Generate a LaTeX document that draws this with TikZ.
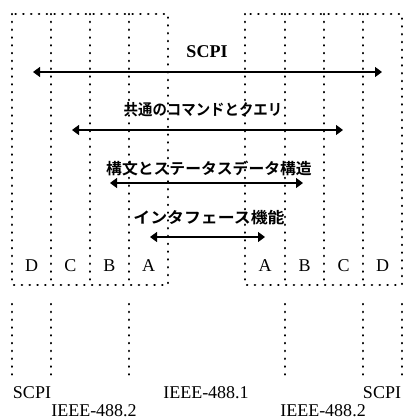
\documentclass[tikz,border=0pt]{standalone}
\usepackage{fontspec}
\setmainfont{Liberation Serif}[BoldFont={Liberation Serif Bold}]
\newfontfamily\jpfont{Noto Sans CJK JP}[BoldFont={Noto Sans CJK JP Bold}]
\usetikzlibrary{arrows.meta}
\begin{document}
\begin{tikzpicture}[x=1pt,y=-1pt,
  dotline/.style={line width=2.4pt,line cap=round,dash pattern=on 0.3pt off 7.5pt},
  arr/.style={line width=1.3pt,{Triangle[length=7pt,width=10pt]}-{Triangle[length=7pt,width=10pt]}},
  lat/.style={inner sep=0pt,font=\fontsize{18}{18}\selectfont},
  bl/.style={inner sep=0pt,font=\fontsize{18}{18}\selectfont\bfseries},
  jp/.style={inner sep=0pt,font=\fontsize{15.5}{15.5}\selectfont\jpfont\bfseries}]
\useasboundingbox (0,0) rectangle (403,420);
% left box
\draw[dotline] (12,14) rectangle (168,285);
\foreach \x in {51,90,129} \draw[dotline] (\x,14) -- (\x,285);
% right box
\draw[dotline] (245,14) rectangle (402,285);
\foreach \x in {285,324,363} \draw[dotline] (\x,14) -- (\x,285);
% lower segments
\foreach \x in {12,51,129,285,363,402} \draw[dotline] (\x,304) -- (\x,375);
% labels
\node[bl] (scpi) at (207,52) {SCPI};
\node[jp] (common) at (203,110) {\scalebox{0.93}[1]{共通のコマンドとクエリ}};
\node[jp] (syntax) at (209,168) {\scalebox{1.02}[1]{構文とステータスデータ構造}};
\node[jp] (iface) at (209,218) {\scalebox{1.09}[1]{インタフェース機能}};
% arrow ends
\coordinate (s1) at (33,72); \coordinate (s2) at (382,72);
\coordinate (c1) at (72,130); \coordinate (c2) at (343,130);
\coordinate (y1) at (110,183); \coordinate (y2) at (303,183);
\coordinate (i1) at (150,237); \coordinate (i2) at (265,237);
\draw[arr] (s1) -- (s2);
\draw[arr] (c1) -- (c2);
\draw[arr] (y1) -- (y2);
\draw[arr] (i1) -- (i2);
% column letters
\node[lat] (lD) at (31.5,266) {D};
\node[lat] (lC) at (70.5,266) {C};
\node[lat] (lB) at (109.5,266) {B};
\node[lat] (lA) at (148.5,266) {A};
\node[lat] (rA) at (265,266) {A};
\node[lat] (rB) at (304.5,266) {B};
\node[lat] (rC) at (343.5,266) {C};
\node[lat] (rD) at (382.5,266) {D};
% bottom labels
\node[lat] (bs1) at (32,393) {SCPI};
\node[lat] (b1) at (206,393) {IEEE-488.1};
\node[lat] (bs2) at (382,393) {SCPI};
\node[lat] (b2l) at (94,411) {IEEE-488.2};
\node[lat] (b2r) at (323,411) {IEEE-488.2};
\end{tikzpicture}
\end{document}
